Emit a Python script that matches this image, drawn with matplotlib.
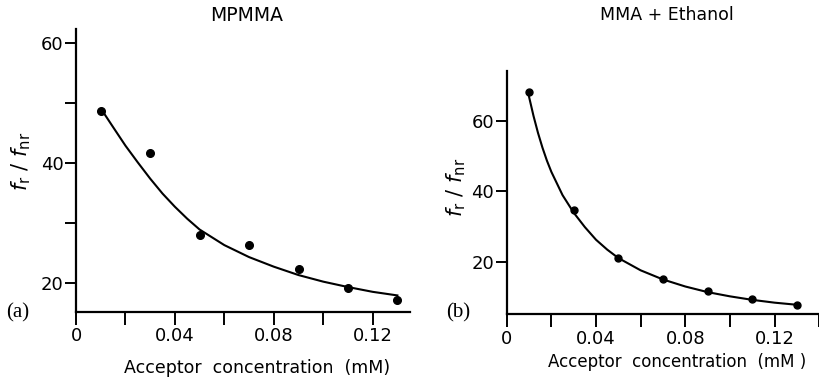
import matplotlib
matplotlib.use("Agg")
import matplotlib.pyplot as plt
from matplotlib.ticker import MultipleLocator

# acceptor concentration (mM) of the measured points
conc = [0.01, 0.03, 0.05, 0.07, 0.09, 0.11, 0.13]

# (a) MPMMA
ratio_a = [48.7, 41.7, 28.0, 26.4, 22.3, 19.1, 17.1]
fit_x_a = [0.011, 0.015, 0.02, 0.025, 0.03, 0.035, 0.04, 0.045, 0.05, 0.06,
           0.07, 0.08, 0.09, 0.10, 0.11, 0.12, 0.13]
fit_y_a = [48.5, 46.0, 42.9, 40.1, 37.4, 34.9, 32.7, 30.7, 28.9, 26.3,
           24.3, 22.7, 21.3, 20.2, 19.3, 18.5, 17.9]

# (b) MMA + Ethanol
ratio_b = [68.2, 34.7, 21.1, 15.0, 11.7, 9.3, 7.7]
fit_x_b = [0.0095, 0.012, 0.014, 0.016, 0.018, 0.02, 0.025, 0.03, 0.035,
           0.04, 0.045, 0.05, 0.06, 0.07, 0.08, 0.09, 0.10, 0.11, 0.12, 0.13]
fit_y_b = [68.2, 61.4, 56.6, 52.4, 48.7, 45.5, 38.9, 33.9, 29.8,
           26.2, 23.4, 21.0, 17.5, 14.9, 12.9, 11.3, 10.1, 9.1, 8.3, 7.7]

xticks = [0, 0.04, 0.08, 0.12]
xticklabels = ["0", "0.04", "0.08", "0.12"]
yticks = [20, 40, 60]

plt.rcParams["mathtext.fontset"] = "dejavusans"

fig = plt.figure(figsize=(8.2, 3.8), dpi=100)
ax1 = fig.add_axes([0.0927, 0.180, 0.407, 0.744])
ax2 = fig.add_axes([0.618, 0.173, 0.381, 0.640])


def style_axis(ax, xmax, ylim, yminor):
    for side in ("top", "right"):
        ax.spines[side].set_visible(False)
    for side in ("left", "bottom"):
        ax.spines[side].set_linewidth(1.6)
    ax.set_xlim(0, xmax)
    ax.set_ylim(*ylim)
    ax.set_xticks(xticks)
    ax.set_xticklabels(xticklabels)
    ax.xaxis.set_minor_locator(MultipleLocator(0.02))
    ax.set_yticks(yticks)
    if yminor:
        ax.yaxis.set_minor_locator(MultipleLocator(10))
    ax.tick_params(axis="x", which="both", direction="out", length=9,
                   width=1.4, labelsize=13, pad=2)
    ax.tick_params(axis="y", which="both", direction="out", length=8,
                   width=1.4, labelsize=13, pad=1)
    ax.set_ylabel(r"$f_{\mathrm{r}}\ /\ f_{\mathrm{nr}}$", fontsize=15)


ax1.plot(fit_x_a, fit_y_a, color="black", lw=1.5)
ax1.plot(conc, ratio_a, "o", color="black", ms=5.5)
style_axis(ax1, 0.135, (15.2, 62.4), True)
ax1.yaxis.set_label_coords(-0.13, 0.53)

ax2.plot(fit_x_b, fit_y_b, color="black", lw=1.5)
ax2.plot(conc, ratio_b, "o", color="black", ms=5)
style_axis(ax2, 0.14, (5.0, 74.2), False)
ax2.yaxis.set_label_coords(-0.125, 0.52)

fig.text(0.301, 0.96, "MPMMA", ha="center", va="center", fontsize=13.5)
fig.text(0.813, 0.96, "MMA + Ethanol", ha="center", va="center",
         fontsize=12.5)
fig.text(0.313, 0.032, "Acceptor  concentration  (mM)", ha="center",
         va="center", fontsize=12.5)
fig.text(0.826, 0.047, "Acceptor  concentration  (mM )", ha="center",
         va="center", fontsize=12)
fig.text(0.008, 0.176, "(a)", family="Liberation Serif", fontsize=15,
         va="center")
fig.text(0.544, 0.176, "(b)", family="Liberation Serif", fontsize=15,
         va="center")

fig.savefig("out.png", dpi=100)
